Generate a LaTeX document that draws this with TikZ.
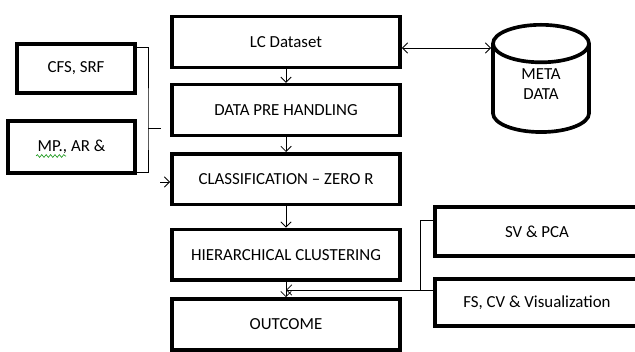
\documentclass[tikz,border=0pt]{standalone}
\usepackage{fontspec}
\setmainfont{Carlito}
\usetikzlibrary{positioning,shapes.geometric,arrows.meta,decorations.pathmorphing}

\begin{document}
\begin{tikzpicture}[x=0.025cm, y=-0.025cm, node distance=1.7cm,
  >={Straight Barb[length=1.3mm,width=2.6mm]},
  font=\fontsize{12}{14}\selectfont,
  block/.style={rectangle, draw, line width=2.6pt, minimum width=5.7cm, minimum height=1.27cm, inner sep=2pt},
  sidebox/.style={rectangle, draw, line width=2.6pt, minimum height=1.22cm, inner sep=2pt},
  link/.style={line width=0.6pt}]

  \path[use as bounding box] (0,0) rectangle (635,352);
  \clip (0,0) rectangle (635,352);

  \node[block] (lc) at (286,42) {LC Dataset};
  \node[block, below of=lc] (pre) {DATA PRE HANDLING};
  \node[block, below of=pre, node distance=1.73cm] (cls) {CLASSIFICATION – ZERO R};
  \node[block, below of=cls, node distance=1.89cm] (hier) {HIERARCHICAL CLUSTERING};
  \node[block, below of=hier, node distance=1.74cm] (out) {OUTCOME};

  % database
  \node[cylinder, shape border rotate=90, draw, line width=2.6pt, minimum width=2.4cm, minimum height=2.68cm, aspect=4, anchor=north] (meta) at (541,23) {};
  \node[align=center] (metatxt) at (541,84) {META\\DATA};

  % inputs on the left
  \node[sidebox, minimum width=2.95cm] (cfs) at (76,68.5) {CFS, SRF};
  \node[sidebox, minimum width=3.17cm, minimum height=1.3cm] (mp) at (71.5,147) {MP., AR \&};
  \draw[green!55!black, line width=0.4pt, decorate, decoration={snake, amplitude=0.35mm, segment length=1.1mm}] (36,156) -- (66,156);

  % outputs on the right
  \node[sidebox, minimum width=5.1cm] (sv) at (537,231.5) {SV \& PCA};
  \node[sidebox, minimum width=5.1cm, minimum height=1.18cm] (fs) at (537,302.5) {FS, CV \& Visualization};

  \draw[link, ->] (lc) -- (pre);
  \draw[link, ->] (pre) -- (cls);
  \draw[link, ->] (cls) -- (hier);
  \draw[link, ->] (hier) -- (out);

  \coordinate (lm) at ([yshift=-0.15cm]lc.east);
  \draw[link, <->] (lm) -- (lm -| meta.west);

  \coordinate (brk) at (148,128);
  \coordinate (cfsarm) at ([yshift=-0.12cm]cfs.north east);
  \coordinate (mparm) at ([yshift=0.05cm]mp.south east);
  \draw[link] (cfsarm) -| (brk) |- (mparm);
  \draw[link] (brk) -- ++(13,0);
  \coordinate (cin) at (160,182);
  \draw[link, ->] (cin) -- (cin -| cls.west);

  \coordinate (rj) at (420,290);
  \coordinate (svarm) at (420,220);
  \draw[link] (svarm -| sv.west) -- (svarm) -- (rj);
  \draw[link, ->] (rj -| fs.west) -- (rj -| hier.south);
\end{tikzpicture}
\end{document}
